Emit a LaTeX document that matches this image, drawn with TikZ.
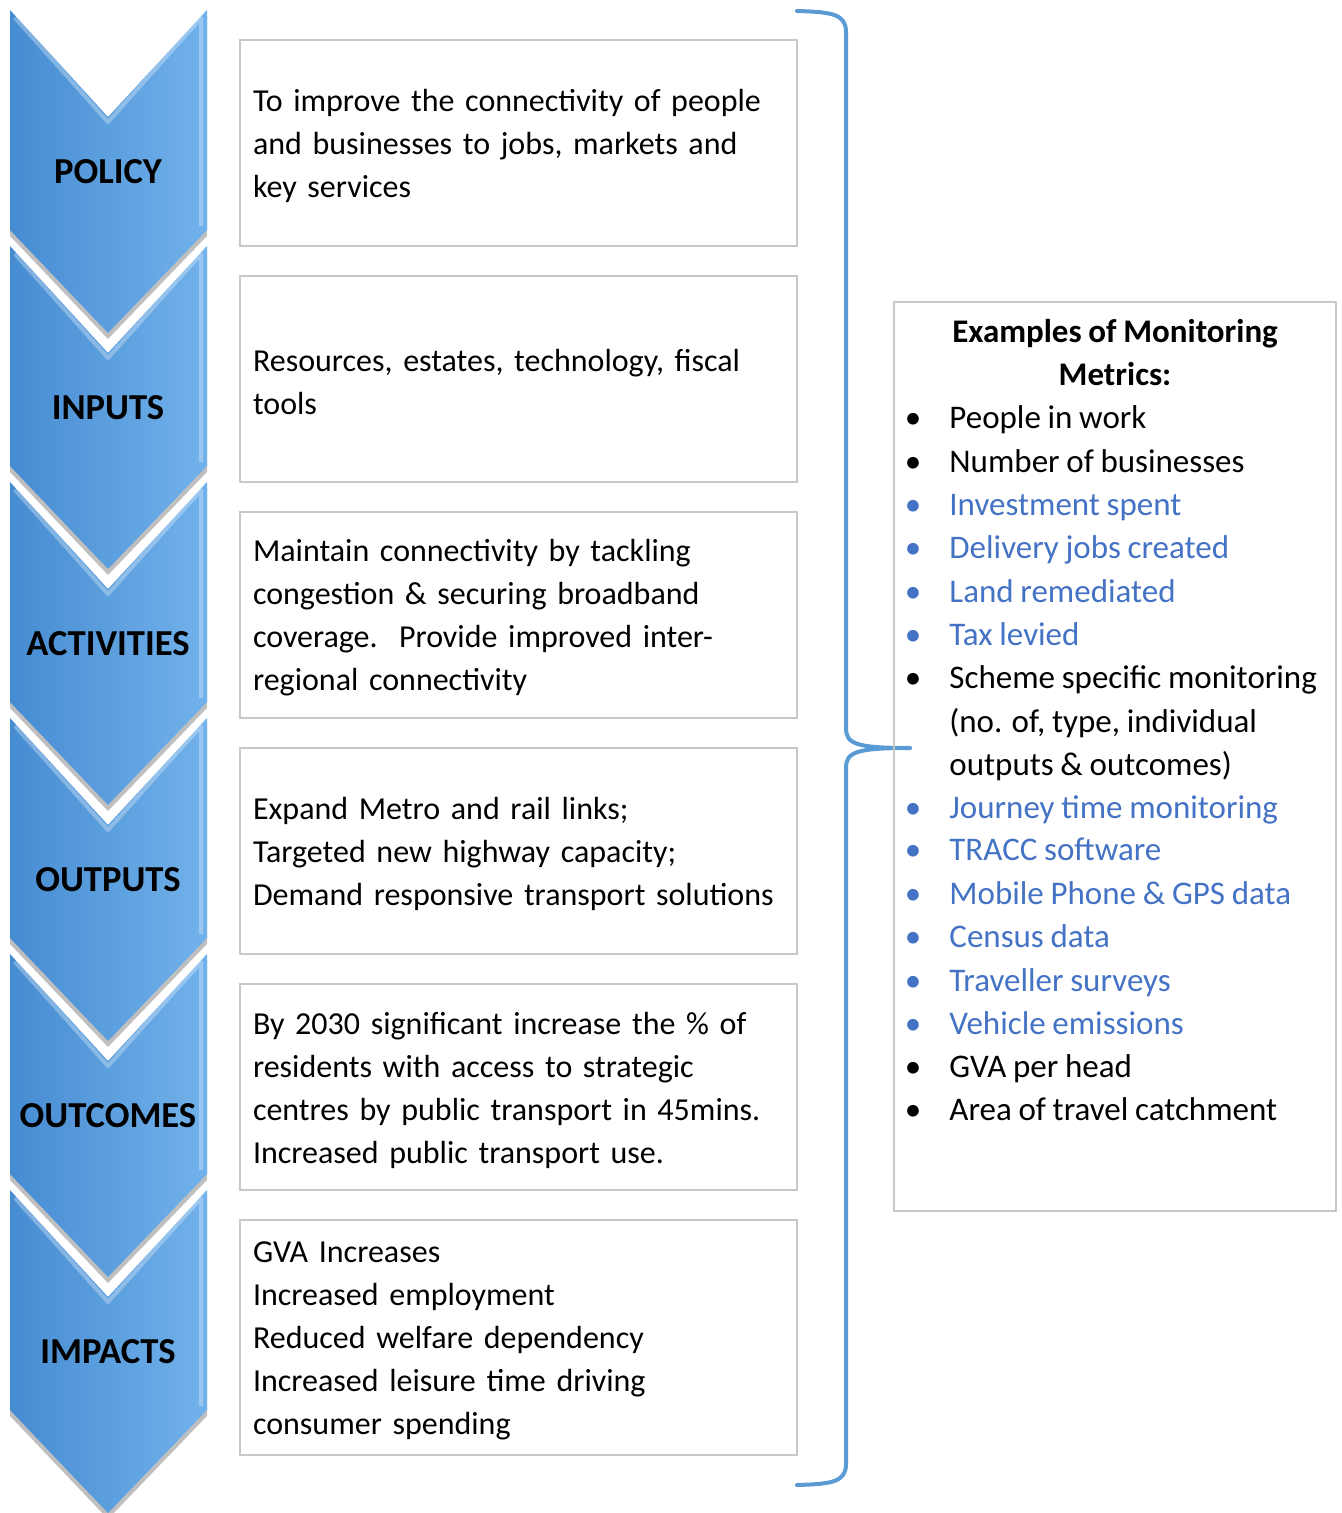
\documentclass[tikz,border=0pt]{standalone}
\usepackage{fontspec}
\setmainfont{Carlito}[WordSpace=0.9]
\usetikzlibrary{shadows}
\definecolor{chevL}{RGB}{70,140,210}
\definecolor{chevR}{RGB}{114,178,235}
\definecolor{brk}{RGB}{91,155,213}
\definecolor{mblue}{RGB}{68,114,196}
\definecolor{boxgray}{RGB}{200,200,200}
\begin{document}
\begin{tikzpicture}[x=0.5pt,y=-0.5pt,
  chev/.style={left color=chevL,right color=chevR,draw=none,
    drop shadow={shadow xshift=0pt,shadow yshift=-3pt,opacity=0.5}},
  bevel/.style={draw=white,opacity=0.3,line width=2pt,line join=round},
  chevlabel/.style={font=\fontsize{18.3}{22}\selectfont\bfseries,text=black},
  bodyfont/.style={font=\fontsize{16}{21.5}\selectfont},
  metfont/.style={font=\fontsize{16.5}{21.5}\selectfont},
  boxframe/.style={draw=boxgray,line width=0.8pt,fill=white,
    minimum width=278.5pt,minimum height=103pt,inner sep=0pt},
  boxtext/.style={bodyfont,text width=265.5pt,inner sep=0pt,align=left},
  metric/.style={metfont,anchor=west,inner sep=0pt,text height=14pt,text depth=2.5pt},
  bullet/.style={metfont,inner sep=0pt,text height=14pt,text depth=2.5pt},
  bracket/.style={draw=brk,line width=2pt,line cap=round,line join=round}
]
\useasboundingbox (0,0) rectangle (1341,1513);

% chevrons (drawn bottom to top)
\foreach \i/\lab in {5/IMPACTS,4/OUTCOMES,3/OUTPUTS,2/ACTIVITIES,1/INPUTS,0/POLICY}{
  \pgfmathsetmacro{\o}{236*\i}
  \path[chev] (10,10+\o) -- (108,117+\o) -- (207,10+\o) -- (207,230+\o)
     -- (108,333+\o) -- (10,230+\o) -- cycle;
  \draw[bevel] (15,18+\o) -- (108,122+\o) -- (201,18+\o) -- (201,226+\o);
  \node[chevlabel] (c\i) at (108,172+\o) {\lab};
}

% left boxes
\node[boxframe] (b1) at (518.5,143) {};
\node[boxtext] (t1) at ([yshift=-1.5pt]b1.center) {To improve the connectivity of people\\and businesses to jobs, markets and\\key services};
\node[boxframe] (b2) at (518.5,379) {};
\node[boxtext] (t2) at ([yshift=-1.5pt]b2.center) {Resources, estates, technology, fiscal\\tools};
\node[boxframe] (b3) at (518.5,615) {};
\node[boxtext] (t3) at ([yshift=-1.5pt]b3.center) {Maintain connectivity by tackling\\congestion \& securing broadband\\coverage.\ \ Provide improved inter-\\regional connectivity};
\node[boxframe] (b4) at (518.5,851) {};
\node[boxtext] (t4) at ([yshift=-1.5pt]b4.center) {Expand Metro and rail links;\\Targeted new highway capacity;\\Demand responsive transport solutions};
\node[boxframe] (b5) at (518.5,1087) {};
\node[boxtext] (t5) at ([yshift=-1.5pt]b5.center) {By 2030 significant increase the \% of\\residents with access to strategic\\centres by public transport in 45mins.\\Increased public transport use.};
\node[boxframe,minimum height=117.5pt] (b6) at (518.5,1337.5) {};
\node[boxtext] (t6) at ([yshift=-1.5pt]b6.center) {GVA Increases\\Increased employment\\Reduced welfare dependency\\Increased leisure time driving\\consumer spending};

% bracket
\coordinate (bt) at (797,11);
\coordinate (bm) at (910,748);
\coordinate (bb) at (797,1485);
\draw[bracket] (bt) .. controls (832,12) and (846,14) .. (846,32) -- (846,728)
  .. controls (846,744) and (856,748) .. (bm);
\draw[bracket] (bm) .. controls (856,748) and (846,752) .. (846,768) -- (846,1464)
  .. controls (846,1482) and (832,1484) .. (bb);

% metrics box
\node[draw=boxgray,line width=0.8pt,minimum width=221pt,minimum height=454.5pt,inner sep=0pt] (mbox) at (1115,756.5) {};
\node[font=\fontsize{16.5}{21.5}\selectfont\bfseries,align=center,inner sep=0pt] (mtitle) at (1115,352.5) {Examples of Monitoring\\Metrics:};
\foreach \y/\c/\b/\t in {
  417/black/1/{People in work},
  461/black/1/{Number of businesses},
  504/mblue/1/{Investment spent},
  547/mblue/1/{Delivery jobs created},
  591/mblue/1/{Land remediated},
  634/mblue/1/{Tax levied},
  677/black/1/{Scheme specific monitoring},
  721/black/0/{(no. of, type, individual},
  764/black/0/{outputs \& outcomes)},
  807/mblue/1/{Journey time monitoring},
  849/mblue/1/{TRACC software},
  893/mblue/1/{Mobile Phone \& GPS data},
  936/mblue/1/{Census data},
  980/mblue/1/{Traveller surveys},
  1023/mblue/1/{Vehicle emissions},
  1066/black/1/{GVA per head},
  1109/black/1/{Area of travel catchment}}{
  \node[metric,text=\c] (ml\y) at (949,\y) {\t};
  \ifnum\b=1 \node[bullet,text=\c] (mb\y) at (913,\y) {\textbullet};\fi
}
\end{tikzpicture}
\end{document}
